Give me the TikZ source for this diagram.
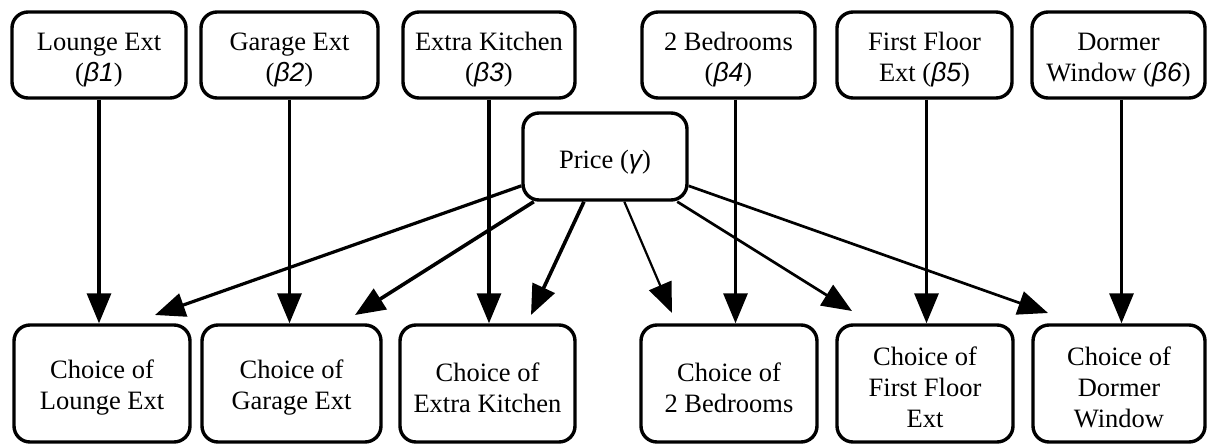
\documentclass[tikz,border=0pt]{standalone}
\usepackage{fontspec}
\setmainfont{Liberation Serif}
\newfontfamily\gk{Liberation Sans}
\usetikzlibrary{arrows.meta}
\newcommand{\bv}[1]{({\gk\itshape β#1})}
\newcommand{\sr}{\rule{0pt}{27pt}}
\begin{document}
\begin{tikzpicture}[x=1pt,y=-1pt,
  box/.style={draw, line width=3.4pt, rounded corners=16pt, align=center, inner sep=0pt,
    font=\fontsize{26.5}{31}\selectfont},
  topbox/.style={box, minimum height=86pt},
  botbox/.style={box, minimum height=117pt},
  arr/.style={line width=3.2pt, -{Triangle[length=30pt,width=24pt]}}
]
\useasboundingbox (0,0) rectangle (1208,444);
% top boxes
\node[topbox, minimum width=174pt] (tL) at (99,55) {\sr Lounge Ext\\\bv{1}};
\node[topbox, minimum width=177pt] (tG) at (289.5,55) {\sr Garage Ext\\\bv{2}};
\node[topbox, minimum width=172pt] (tK) at (489,55) {\sr Extra Kitchen\\\bv{3}};
\node[topbox, minimum width=173pt] (tB) at (728.5,55) {\sr 2 Bedrooms\\\bv{4}};
\node[topbox, minimum width=175pt] (tF) at (924.5,55) {\sr First Floor\\Ext \bv{5}};
\node[topbox, minimum width=173pt] (tD) at (1118.5,55) {\sr Dormer\\Window \bv{6}};
% price
\node[box, minimum width=164pt, minimum height=87pt] (price) at (605,156.5) {\rule{0pt}{29pt}Price ({\gk\itshape γ})};
% bottom boxes
\node[botbox, minimum width=176pt] (cL) at (102,383.5) {\sr Choice of\\Lounge Ext};
\node[botbox, minimum width=179pt] (cG) at (291.5,383.5) {\sr Choice of\\Garage Ext};
\node[botbox, minimum width=175pt] (cK) at (487.5,383.5) {\sr Choice of\\Extra Kitchen};
\node[botbox, minimum width=176pt] (cB) at (729,383.5) {\sr Choice of\\2 Bedrooms};
\node[botbox, minimum width=176pt] (cF) at (925,383.5) {\sr Choice of\\First Floor\\Ext};
\node[botbox, minimum width=172pt] (cD) at (1119,383.5) {\sr Choice of\\Dormer\\Window};
% vertical arrows
\draw[arr] (tL.south) -- (tL.south |- cL.north);
\draw[arr] (tG.south) -- (tG.south |- cG.north);
\draw[arr] (tK.south) -- (tK.south |- cK.north);
\draw[arr] ([xshift=7pt]tB.south) -- ([xshift=7pt]tB.south |- cB.north);
\draw[arr] ([xshift=2pt]tF.south) -- ([xshift=2pt]tF.south |- cF.north);
\draw[arr] ([xshift=3pt]tD.south) -- ([xshift=3pt]tD.south |- cD.north);
% diagonal arrow ends
\coordinate (eL) at (155,315);
\coordinate (eG) at (355,315);
\coordinate (eK) at (531,315);
\coordinate (eB) at (672,313);
\coordinate (eF) at (852,311);
\coordinate (eD) at (1048,313);
\draw[arr] (price) -- (eL);
\draw[arr, line width=3.6pt] (price) -- (eG);
\draw[arr, line width=3.6pt] (price) -- (eK);
\draw[arr, line width=2.2pt] (price) -- (eB);
\draw[arr, line width=2.7pt] (price) -- (eF);
\draw[arr, line width=2.7pt] (price) -- (eD);
\end{tikzpicture}
\end{document}
